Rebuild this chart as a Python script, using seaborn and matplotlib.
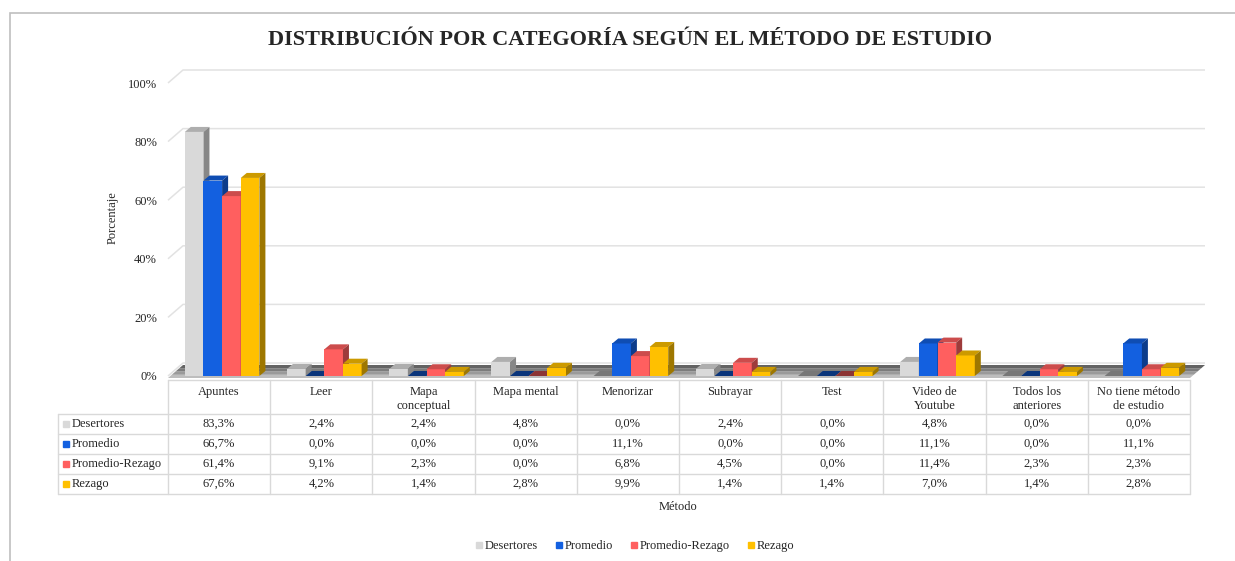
import numpy as np
import pandas as pd
import matplotlib
matplotlib.use("Agg")
import matplotlib.pyplot as plt
import matplotlib.colors as mcolors
from matplotlib.patches import Polygon, Rectangle
from matplotlib.lines import Line2D
import seaborn as sns

# ---- data ----
metodos = ["Apuntes", "Leer", "Mapa\nconceptual", "Mapa mental", "Menorizar",
           "Subrayar", "Test", "Video de\nYoutube", "Todos los\nanteriores",
           "No tiene método\nde estudio"]
grupos = ["Desertores", "Promedio", "Promedio-Rezago", "Rezago"]
desertores = [83.3, 2.4, 2.4, 4.8, 0.0, 2.4, 0.0, 4.8, 0.0, 0.0]
promedio = [66.7, 0.0, 0.0, 0.0, 11.1, 0.0, 0.0, 11.1, 0.0, 11.1]
promedio_rezago = [61.4, 9.1, 2.3, 0.0, 6.8, 4.5, 0.0, 11.4, 2.3, 2.3]
rezago = [67.6, 4.2, 1.4, 2.8, 9.9, 1.4, 1.4, 7.0, 1.4, 2.8]
colores = ["#d9d9d9", "#1360e0", "#ff5f5f", "#ffc000"]

series = [desertores, promedio, promedio_rezago, rezago]
df = pd.DataFrame({
    "Método": np.tile(metodos, len(grupos)),
    "Grupo": np.repeat(grupos, len(metodos)),
    "valor": np.concatenate(series) / 100.0,
})

sns.set_style("white")
plt.rcParams["font.family"] = ["Liberation Serif", "DejaVu Serif"]

W, H = 1235, 561
fig = plt.figure(figsize=(W / 100, H / 100), dpi=100)

# outer chart border (cut at right/bottom like the screenshot)
fig.patches.append(Rectangle((10 / W, -0.1), 1.2, 1 - 13 / H + 0.1, transform=fig.transFigure,
                             fill=False, edgecolor="#bfbfbf", lw=1.2, clip_on=False))

ax = fig.add_axes([168 / W, (H - 376) / H, 1022 / W, 293 / H])
sns.barplot(data=df, x="Método", y="valor", hue="Grupo", order=metodos, hue_order=grupos,
            palette=colores, width=0.73, dodge=True, legend=False, ax=ax,
            saturation=1, edgecolor="none", linewidth=0)
ax.set_xlim(-0.5, len(metodos) - 0.5)
ax.set_ylim(0, 1)
for s in ax.spines.values():
    s.set_visible(False)
ax.set_xticks([])
ax.set_xlabel("")
ax.set_ylabel("")
yt = [0, 0.2, 0.4, 0.6, 0.8, 1.0]
ax.set_yticks(yt)
ax.set_yticklabels([f"{int(v * 100)}%" for v in yt], fontsize=9)
ax.tick_params(axis="y", length=0, pad=8)

bb = ax.get_position()
ppx = bb.width * W / (len(metodos))
ppy = bb.height * H / 1.0

def px(dx, dy):
    return dx / ppx, dy / ppy

# back-wall gridlines
gx, gy = px(15, 13)
x0, x1 = ax.get_xlim()
for v in yt:
    ax.plot([x0, x0 + gx, x1 + gx], [v, v + gy, v + gy], color="#e2e2e2", lw=1.1,
            zorder=1, clip_on=False, solid_capstyle="butt")

# floor
fdx, fdy = px(15, 13)
_, f0 = px(0, -2)
bands = ["#bdbdbd", "#9a9a9a", "#7c7c7c", "#636363"]
for i, c in enumerate(bands):
    a = i / len(bands)
    b = (i + 1) / len(bands)
    pts = [(x0 + fdx * a, f0 + fdy * a), (x1 + fdx * a, f0 + fdy * a),
           (x1 + fdx * b, f0 + fdy * b), (x0 + fdx * b, f0 + fdy * b)]
    ax.add_patch(Polygon(pts, closed=True, facecolor=c, edgecolor="none", zorder=2, clip_on=False))

# 3D faces on bars (bars sit a little to the right, mid-depth on the floor)
shift = 3 / ppx
ddx, ddy = px(6, 5)
for cont, col in zip(ax.containers, colores):
    rgb = np.array(mcolors.to_rgb(col))
    top_c = rgb * 0.8
    side_c = rgb * 0.62
    for p in cont:
        p.set_x(p.get_x() + shift)
        bx, bw, bh = p.get_x(), p.get_width(), p.get_height()
        z = 3 + (bx + 1) * 0.1
        p.set_zorder(z)
        top = [(bx, bh), (bx + bw, bh), (bx + bw + ddx, bh + ddy), (bx + ddx, bh + ddy)]
        side = [(bx + bw, 0), (bx + bw + ddx, ddy), (bx + bw + ddx, bh + ddy), (bx + bw, bh)]
        tc = top_c if bh > 0 else rgb * 0.55
        ax.add_patch(Polygon(top, closed=True, facecolor=tc, edgecolor="none", zorder=z, clip_on=False))
        if bh > 0:
            ax.add_patch(Polygon(side, closed=True, facecolor=side_c, edgecolor="none", zorder=z, clip_on=False))

# ---- data table ----
left = -0.5 - (168 - 58) / ppx
tab = fig.add_axes([58 / W, (H - 494) / H, (1190 - 58) / W, (494 - 380) / H])
tab.set_xlim(left, len(metodos) - 0.5)
tab.set_ylim(494, 380)
tab.axis("off")
rows = [380, 414, 434, 454, 474, 494]
lc = "#d9d9d9"
tab.plot([-0.5, len(metodos) - 0.5], [rows[0]] * 2, color=lc, lw=1, clip_on=False)
for r in rows[1:]:
    tab.plot([left, len(metodos) - 0.5], [r, r], color=lc, lw=1, clip_on=False)
for k in range(len(metodos) + 1):
    tab.plot([-0.5 + k] * 2, [rows[0], rows[-1]], color=lc, lw=1, clip_on=False)
tab.plot([left] * 2, [rows[1], rows[-1]], color=lc, lw=1, clip_on=False)

for i, m in enumerate(metodos):
    tab.text(i, 386, m, ha="center", va="top", fontsize=9, linespacing=1.25)
for j, (g, vals, c) in enumerate(zip(grupos, series, colores)):
    yc = (rows[j + 1] + rows[j + 2]) / 2
    tab.plot([left + 8 / ppx], [yc], marker="s", color=c, markersize=4.5, clip_on=False)
    tab.text(left + 14 / ppx, yc, g, ha="left", va="center", fontsize=9)
    for i, v in enumerate(vals):
        tab.text(i, yc, f"{v:.1f}%".replace(".", ","), ha="center", va="center", fontsize=9)

# labels, title, legend
fig.text(630 / W, 1 - 40 / H, "DISTRIBUCIÓN POR CATEGORÍA SEGÚN EL MÉTODO DE ESTUDIO",
         ha="center", va="center", fontsize=16, fontweight="bold")
fig.text(113 / W, 1 - 218 / H, "Porcentaje", rotation=90, ha="center", va="center", fontsize=9)
fig.text(678 / W, 1 - 507 / H, "Método", ha="center", va="center", fontsize=9)

handles = [Line2D([], [], marker="s", ls="", color=c, markersize=5) for c in colores]
fig.legend(handles, grupos, loc="center", bbox_to_anchor=(634 / W, 1 - 546 / H), ncol=4,
           frameon=False, handletextpad=0.05, columnspacing=1.3, handlelength=0.8, fontsize=9)

fig.savefig("out.png", dpi=100)
